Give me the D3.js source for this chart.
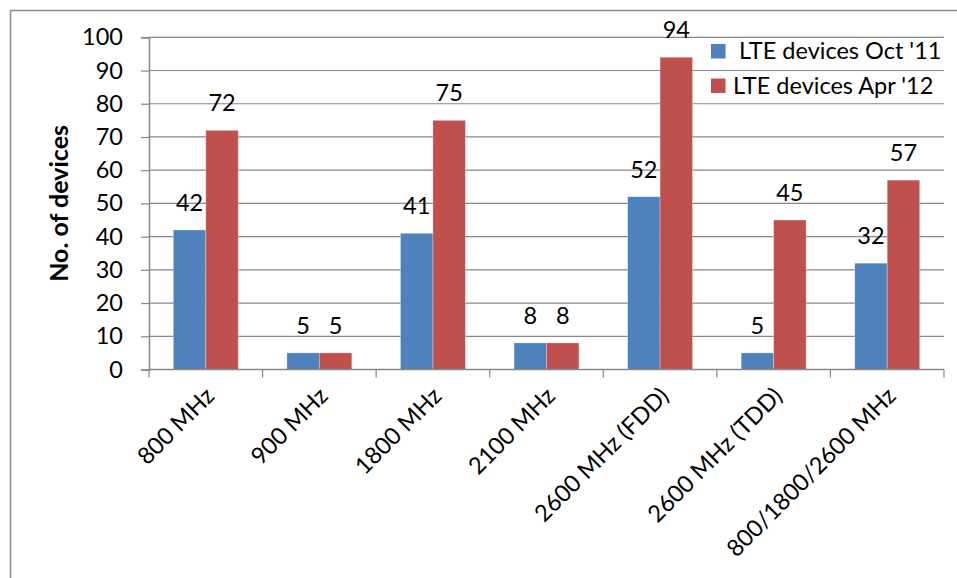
<!DOCTYPE html>
<html>
<head>
<meta charset="utf-8">
<script src="https://cdn.jsdelivr.net/npm/d3@7"></script>
<style>
  html, body { margin: 0; padding: 0; background: #fff; }
  svg { display: block; font-family: Lato, "Liberation Sans", sans-serif; }
</style>
</head>
<body>
<svg id="chart" width="957" height="578"></svg>
<script>
// Band categories
const categories = ["800 MHz", "900 MHz", "1800 MHz", "2100 MHz", "2600 MHz (FDD)", "2600 MHz (TDD)", "800/1800/2600 MHz"];
// Series names (legend text)
const seriesNames = [" LTE devices Oct '11", "LTE devices Apr '12"];
// Device counts per band
const octValues = [42, 5, 41, 8, 52, 5, 32];
const aprValues = [72, 5, 75, 8, 94, 45, 57];
// Axis ticks
const yTicks = [0, 10, 20, 30, 40, 50, 60, 70, 80, 90, 100];
const yTitle = "No. of devices";

const colors = ["#4F81BD", "#C0504D"];
const seriesValues = [octValues, aprValues];

const svg = d3.select("#chart");
const plot = { left: 149, right: 944, top: 37.3, bottom: 369.5 };
const fontSize = 23.5;

// Chart frame
svg.append("rect")
  .attr("x", 10.5).attr("y", 10.5)
  .attr("width", 1000).attr("height", 1000)
  .attr("fill", "none").attr("stroke", "#8c8c8c").attr("stroke-width", 1.5);

const x = d3.scaleBand().domain(categories).range([plot.left, plot.right]).padding(0);
const xs = d3.scaleBand().domain(d3.range(seriesNames.length)).range([0, x.bandwidth()])
  .paddingInner(0).paddingOuter(0.75);
const y = d3.scaleLinear().domain([0, 100]).range([plot.bottom, plot.top]);

// Horizontal gridlines
svg.append("g").selectAll("line").data(yTicks.filter(d => d > 0)).join("line")
  .attr("x1", plot.left).attr("x2", plot.right)
  .attr("y1", d => y(d)).attr("y2", d => y(d))
  .attr("stroke", "#878787").attr("stroke-width", 1.2);

// Bars with value labels
const groups = svg.append("g").selectAll("g").data(categories).join("g")
  .attr("transform", c => `translate(${x(c)},0)`);

seriesValues.forEach((vals, si) => {
  groups.append("rect")
    .attr("x", xs(si))
    .attr("width", xs.bandwidth())
    .attr("y", (c, i) => y(vals[i]))
    .attr("height", (c, i) => y(0) - y(vals[i]))
    .attr("fill", colors[si])
    .attr("stroke", "rgba(255,255,255,0.35)")
    .attr("stroke-width", 0.8);
  groups.append("text")
    .attr("x", xs(si) + xs.bandwidth() / 2)
    .attr("y", (c, i) => y(vals[i]) - 19)
    .attr("text-anchor", "middle")
    .attr("font-size", fontSize)
    .attr("fill", "#000")
    .text((c, i) => vals[i]);
});

// Y axis
const yAxis = svg.append("g")
  .attr("transform", `translate(${plot.left},0)`)
  .call(d3.axisLeft(y).tickValues(yTicks).tickSize(8).tickPadding(18));
yAxis.select(".domain").attr("stroke", "#878787").attr("stroke-width", 1.5);
yAxis.selectAll(".tick line").attr("stroke", "#878787").attr("stroke-width", 1.2);
yAxis.selectAll(".tick text").attr("font-size", fontSize).attr("fill", "#000")
  .attr("font-family", "Lato, 'Liberation Sans', sans-serif");

// X axis: tick marks sit on band boundaries
const xAxisG = svg.append("g").attr("transform", `translate(0,${plot.bottom})`);
xAxisG.append("line")
  .attr("x1", plot.left).attr("x2", plot.right)
  .attr("stroke", "#878787").attr("stroke-width", 1.5);
const boundaries = categories.map(c => x(c)).concat([x(categories[categories.length - 1]) + x.bandwidth()]);
xAxisG.selectAll("line.tk").data(boundaries).join("line")
  .attr("class", "tk")
  .attr("x1", d => d).attr("x2", d => d)
  .attr("y1", 0).attr("y2", 8)
  .attr("stroke", "#878787").attr("stroke-width", 1.2);
xAxisG.selectAll("text").data(categories).join("text")
  .attr("transform", c => `translate(${x(c) + x.bandwidth() / 2 + 10},${28}) rotate(-45)`)
  .attr("text-anchor", "end")
  .attr("font-size", fontSize)
  .attr("fill", "#000")
  .text(c => c);

// Y axis title
svg.append("text")
  .attr("transform", `translate(68,${(plot.top + plot.bottom) / 2}) rotate(-90)`)
  .attr("text-anchor", "middle")
  .attr("font-size", 25)
  .attr("font-weight", "bold")
  .attr("fill", "#000")
  .text(yTitle);

// Legend
const legend = svg.append("g").selectAll("g").data(seriesNames).join("g")
  .attr("transform", (d, i) => `translate(711,${44 + i * 34.5})`);
legend.append("rect")
  .attr("width", 14.5).attr("height", 14.5)
  .attr("fill", (d, i) => colors[i]);
legend.append("text")
  .attr("x", 22)
  .attr("y", 15)
  .attr("font-size", fontSize)
  .attr("fill", "#000")
  .style("white-space", "pre")
  .text(d => d);
</script>
</body>
</html>
